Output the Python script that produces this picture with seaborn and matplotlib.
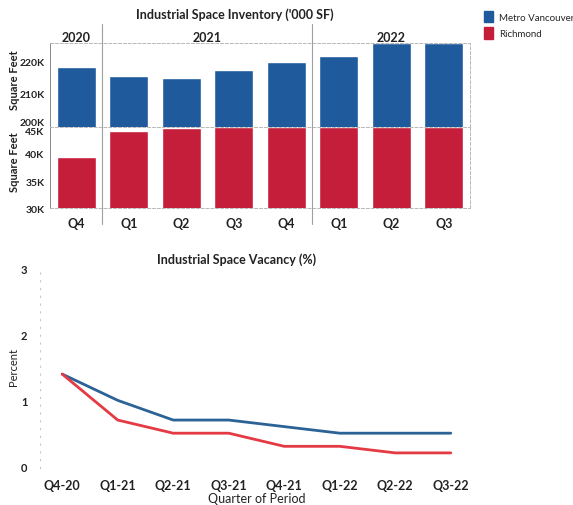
import numpy as np
import pandas as pd
import matplotlib
matplotlib.use('Agg')
import matplotlib.pyplot as plt
from matplotlib.patches import Patch
import seaborn as sns

# %% data
quarters = ['Q4', 'Q1', 'Q2', 'Q3', 'Q4', 'Q1', 'Q2', 'Q3']
years = ['2020', '2021', '2021', '2021', '2021', '2022', '2022', '2022']
periods = ['Q4-20', 'Q1-21', 'Q2-21', 'Q3-21', 'Q4-21', 'Q1-22', 'Q2-22', 'Q3-22']
metro_inventory = [218.2, 215.3, 214.9, 217.2, 219.7, 221.5, 225.5, 225.5]   # '000 SF (K)
richmond_inventory = [39.5, 44.3, 44.7, 44.9, 45.0, 45.0, 45.0, 45.0]
metro_vacancy = [1.4, 1.0, 0.7, 0.7, 0.6, 0.5, 0.5, 0.5]
richmond_vacancy = [1.4, 0.7, 0.5, 0.5, 0.3, 0.3, 0.2, 0.2]

upper_ticks = [200, 210, 220]
lower_ticks = [30, 35, 40, 45]
vac_ticks = [0, 1, 2, 3]

blue = '#1f5a9c'
red = '#c41e3a'
line_blue = '#2c6396'
line_red = '#e43a44'
grid_c = '#b8b8b8'

df = pd.DataFrame({'period': periods, 'quarter': quarters, 'year': years,
                   'metro': metro_inventory, 'richmond': richmond_inventory,
                   'metro_vac': metro_vacancy, 'richmond_vac': richmond_vacancy})

sns.set_style('white')
plt.rcParams['font.family'] = ['Lato', 'DejaVu Sans']

W, H = 573, 506
fig = plt.figure(figsize=(W / 100, H / 100), dpi=100)


def box(l, t, r, b):
    return [l / W, 1 - b / H, (r - l) / W, (b - t) / H]


ax_head = fig.add_axes(box(50, 25, 470, 44))
ax_up = fig.add_axes(box(50, 44, 470, 127.7))
ax_lo = fig.add_axes(box(50, 127.7, 470, 209.3))
ax_vac = fig.add_axes(box(40, 270, 473, 469))

x = np.arange(len(periods))

# %% inventory bars
sns.barplot(x=x, y=df['metro'], ax=ax_up, color=blue, width=0.75, saturation=1, native_scale=True)
sns.barplot(x=x, y=df['richmond'], ax=ax_lo, color=red, width=0.75, saturation=1, native_scale=True)

ax_up.set_ylim(200, 225.5)
ax_lo.set_ylim(30, 45)
for ax in (ax_head, ax_up, ax_lo):
    ax.set_xlim(-0.5, len(periods) - 0.5)
    ax.set_xlabel('')
    ax.set_ylabel('')
    for s in ax.spines.values():
        s.set_color(grid_c)
        s.set_linestyle((0, (3, 2)))
        s.set_linewidth(0.7)
    ax.spines['left'].set_color('#888888')
    ax.spines['left'].set_linestyle('-')

ax_up.set_xticks([])
ax_up.set_yticks(upper_ticks)
ax_up.set_yticklabels([f'{v}K' for v in upper_ticks])
ax_lo.set_xticks(x)
ax_lo.set_xticklabels(quarters)
ax_lo.set_yticks(lower_ticks)
ax_lo.set_yticklabels([f'{v}K' for v in lower_ticks])
for ax in (ax_up, ax_lo):
    ax.tick_params(axis='y', length=3, width=0.7, color='#888888', pad=1,
                   labelsize=7.5, labelcolor='#222222')
    for lab in ax.get_yticklabels():
        lab.set_fontweight('bold')
ax_lo.tick_params(axis='x', length=0, pad=6, labelsize=9, labelcolor='#222222')
for lab in ax_lo.get_xticklabels():
    lab.set_fontweight('bold')
ax_up.get_yticklabels()[0].set_va('bottom')
ax_lo.get_yticklabels()[-1].set_va('top')

# year header
ax_head.set_xticks([])
ax_head.set_yticks([])
ax_head.spines['left'].set_visible(False)
ax_head.spines['top'].set_visible(False)
ax_head.spines['right'].set_visible(False)
for yr in ['2020', '2021', '2022']:
    idx = x[df['year'] == yr]
    ax_head.text(idx.mean(), 0.3, yr, ha='center', va='center', fontsize=9,
                 fontweight='bold', color='#222222', transform=ax_head.get_xaxis_transform())

# year separators across header, panels and labels
for sep in [102, 312]:
    fig.add_artist(plt.Line2D([sep / W, sep / W], [1 - 25 / H, 1 - 225 / H],
                              color='#a0a0a0', lw=0.8))

fig.text(235 / W, 1 - 15 / H, "Industrial Space Inventory ('000 SF)", ha='center', va='center',
         fontsize=9, fontweight='bold', color='#222222')
fig.text(14 / W, 1 - 80 / H, 'Square Feet', rotation=90, ha='center', va='center',
         fontsize=8, fontweight='bold', color='#222222')
fig.text(14 / W, 1 - 162 / H, 'Square Feet', rotation=90, ha='center', va='center',
         fontsize=8, fontweight='bold', color='#222222')

fig.legend(handles=[Patch(color=blue, label='Metro Vancouver'),
                    Patch(color=red, label='Richmond')],
           loc='upper left', bbox_to_anchor=(480 / W, 1 - 8 / H), frameon=False,
           fontsize=7, handlelength=0.95, handleheight=1.4, handletextpad=0.6,
           labelspacing=0.55, borderaxespad=0)

# %% vacancy lines
sns.lineplot(x=x, y=df['metro_vac'], ax=ax_vac, color=line_blue, lw=2)
sns.lineplot(x=x, y=df['richmond_vac'], ax=ax_vac, color=line_red, lw=2)
ax_vac.set_xlim(-0.4, len(periods) - 0.6)
ax_vac.set_ylim(-0.03, 3)
ax_vac.set_xticks(x)
ax_vac.set_xticklabels(periods)
ax_vac.set_yticks(vac_ticks)
ax_vac.set_yticklabels([str(v) for v in vac_ticks])
for s in ['top', 'right', 'bottom']:
    ax_vac.spines[s].set_visible(False)
ax_vac.spines['left'].set_color('#c8c8c8')
ax_vac.spines['left'].set_linestyle((0, (1, 6)))
ax_vac.tick_params(axis='y', length=3, width=0.6, color='#888888', pad=6,
                   labelsize=8, labelcolor='#222222')
ax_vac.tick_params(axis='x', length=2, width=0.6, color='#bbbbbb', pad=6,
                   labelsize=9, labelcolor='#222222')
for lab in ax_vac.get_xticklabels() + ax_vac.get_yticklabels():
    lab.set_fontweight('bold')
ax_vac.set_xlabel('Quarter of Period', fontsize=9, color='#222222', labelpad=1)
ax_vac.set_ylabel('')
fig.text(13 / W, 1 - 367 / H, 'Percent', rotation=90, ha='center', va='center',
         fontsize=8, color='#222222')
fig.text(237 / W, 1 - 260 / H, 'Industrial Space Vacancy (%)', ha='center', va='center',
         fontsize=9, fontweight='bold', color='#222222')

fig.savefig('out.png', dpi=100)
